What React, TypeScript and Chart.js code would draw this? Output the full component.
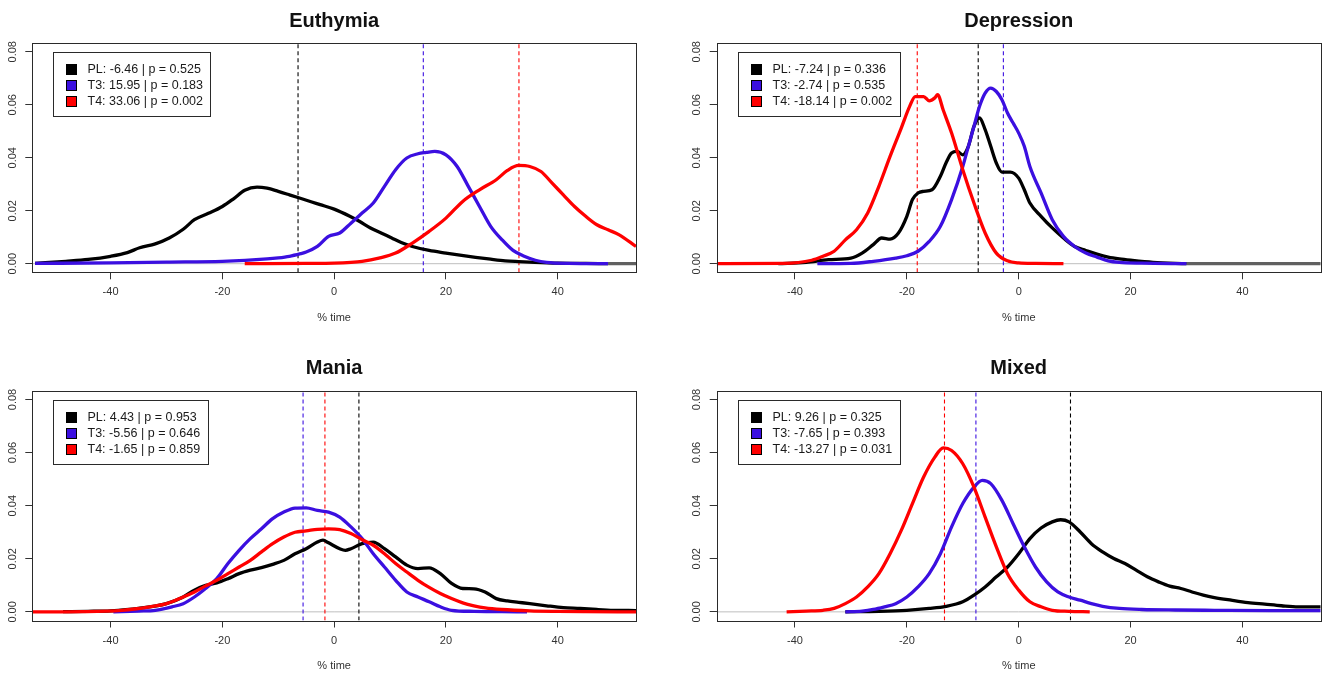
import React, { useEffect, useRef } from 'react';
import { Chart, registerables } from 'chart.js';

Chart.register(...registerables);

// ---------- data ----------
const X_MIN = -54;
const X_MAX = 54;
const Y_MIN = -0.00325;
const Y_MAX = 0.0832;
const xTicks = [-40, -20, 0, 20, 40];
const yTicks = [0, 0.02, 0.04, 0.06, 0.08];
const groups = ['PL', 'T3', 'T4'];
const groupColors = ['#000000', '#3b0fe0', '#ff0000'];
const panelTitles = ['Euthymia', 'Depression', 'Mania', 'Mixed'];

const euthymiaMeans = [-6.46, 15.95, 33.06];
const euthymiaP = [0.525, 0.183, 0.002];
const depressionMeans = [-7.24, -2.74, -18.14];
const depressionP = [0.336, 0.535, 0.002];
const maniaMeans = [4.43, -5.56, -1.65];
const maniaP = [0.953, 0.646, 0.859];
const mixedMeans = [9.26, -7.65, -13.27];
const mixedP = [0.325, 0.393, 0.031];

const euthymiaPL = [[-53.5,0.0001],[-48,0.0009],[-44,0.0016],[-40,0.0028],[-37,0.0042],[-34.8,0.006],[-32,0.0075],[-29.5,0.0097],[-27,0.013],[-25,0.0166],[-22.5,0.019],[-20,0.0216],[-18,0.0245],[-16,0.0277],[-13.8,0.0289],[-12,0.0285],[-10,0.0273],[-8,0.026],[-6.2,0.0248],[-4,0.0233],[-2.5,0.0223],[0,0.0206],[2.8,0.0179],[4.5,0.016],[6.5,0.0135],[8.5,0.0115],[10.3,0.0097],[12,0.008],[14,0.0065],[17,0.005],[20,0.004],[22.5,0.0032],[25.3,0.0024],[28,0.0017],[30.6,0.0011],[33,0.0008],[35.9,0.0005],[40,0.0002],[45,0.0001],[49,0]];
const euthymiaT3 = [[-53.5,0.0001],[-40,0.0003],[-30,0.0006],[-20,0.0009],[-12,0.0018],[-10,0.0022],[-8,0.0028],[-6,0.0038],[-5,0.0044],[-3,0.0065],[-1,0.0103],[1,0.0116],[3,0.0153],[5,0.0191],[7,0.0229],[9,0.0292],[11,0.0355],[13,0.0399],[15,0.0415],[16.5,0.042],[18,0.0424],[20,0.0411],[22,0.0367],[24,0.0292],[26,0.0216],[28,0.0141],[30,0.0091],[32,0.005],[34,0.0028],[36,0.0013],[38,0.0005],[42,0.0001],[49,0]];
const euthymiaT4 = [[-16,0],[-5,0.0001],[0,0.0002],[3,0.0005],[5,0.0009],[8,0.0021],[11,0.004],[14,0.0078],[17,0.0122],[20,0.0172],[23,0.0235],[26,0.0279],[29,0.0317],[31,0.0352],[33,0.0371],[35,0.0367],[37,0.0348],[39,0.0304],[41,0.026],[43,0.0216],[45,0.0179],[47,0.0147],[49,0.0128],[51,0.0109],[54,0.0065]];

const depressionPL = [[-43,0],[-38,0.0005],[-34,0.0015],[-30,0.0021],[-28,0.004],[-26,0.0072],[-24.5,0.0097],[-23,0.0093],[-21.5,0.0116],[-20,0.0179],[-19,0.0242],[-18,0.0267],[-17,0.0273],[-15.5,0.0279],[-14,0.033],[-13,0.038],[-12,0.0418],[-11,0.0424],[-10,0.0411],[-9,0.0443],[-8,0.0518],[-7,0.055],[-6,0.0506],[-5,0.0443],[-4,0.038],[-3,0.0346],[-1.5,0.0346],[0,0.0323],[1,0.0279],[2,0.0229],[4,0.0179],[6,0.0135],[8,0.0097],[10,0.0065],[12,0.005],[14,0.0036],[16,0.0025],[18,0.0018],[20,0.0013],[24,0.0005],[30,0]];
const depressionT3 = [[-36,0],[-30,0.0001],[-26,0.0009],[-22,0.0021],[-20,0.003],[-18,0.0047],[-16,0.0084],[-14,0.0141],[-12,0.0242],[-10,0.0367],[-9,0.0443],[-8,0.0518],[-7,0.0594],[-6,0.0644],[-5,0.0663],[-4,0.065],[-3,0.0619],[-2,0.0569],[-1,0.0531],[0,0.0493],[1,0.0443],[2,0.0367],[4,0.0267],[6,0.0166],[8,0.0103],[10,0.0065],[12,0.004],[14,0.0025],[16,0.0011],[18,0.0005],[22,0.0002],[30,0]];
const depressionT4 = [[-54,0],[-42,0.0001],[-37,0.0013],[-35,0.0028],[-33,0.0047],[-31,0.009],[-29,0.0128],[-27,0.0191],[-25,0.0292],[-23,0.0405],[-21,0.0512],[-19.5,0.0594],[-18.5,0.0631],[-17,0.0631],[-16,0.0615],[-15,0.0626],[-14.5,0.0638],[-13.5,0.058],[-12,0.0493],[-10,0.0355],[-8,0.0229],[-6,0.0116],[-4,0.004],[-2,0.0011],[0,0.0003],[3,0.0001],[8,0]];

const maniaPL = [[-48.5,0.0001],[-44,0.0002],[-40,0.0004],[-35,0.0013],[-30,0.0031],[-27,0.0056],[-25,0.0082],[-23,0.01],[-21,0.0109],[-19,0.0125],[-17,0.0144],[-15,0.0157],[-13,0.0167],[-11,0.0179],[-9,0.0194],[-7,0.0219],[-5,0.0238],[-3,0.0263],[-2,0.027],[-1,0.026],[1,0.0238],[2,0.0232],[3,0.0238],[5,0.0257],[7,0.0263],[9,0.0238],[11,0.0207],[13,0.0176],[15,0.0163],[17,0.0166],[19,0.0144],[21,0.0107],[23,0.0088],[25,0.0087],[27,0.0075],[29,0.005],[31,0.0041],[33,0.0036],[35,0.0031],[38,0.0023],[41,0.0016],[44,0.0013],[47,0.0009],[50,0.0006],[54,0.0005]];
const maniaT3 = [[-39.5,0],[-35,0.0003],[-32,0.0006],[-29,0.0019],[-27,0.0031],[-25,0.0056],[-23,0.0088],[-21,0.0125],[-19,0.0182],[-17,0.0232],[-15,0.0276],[-13,0.0313],[-11,0.0351],[-9,0.0376],[-7,0.0391],[-5,0.0392],[-3,0.0382],[-1,0.0376],[1,0.0357],[3,0.032],[5,0.0276],[7,0.0219],[9,0.0169],[11,0.0119],[13,0.0075],[15,0.0056],[17,0.0038],[19,0.0019],[21,0.0006],[25,0.0002],[30,0.0001],[34.5,0]];
const maniaT4 = [[-54,0],[-45,0.0001],[-38,0.0006],[-33,0.0019],[-30,0.0031],[-27,0.0056],[-25,0.0075],[-23,0.0098],[-21,0.0119],[-19,0.0144],[-17,0.0169],[-15,0.0194],[-13,0.0226],[-11,0.0257],[-9,0.0282],[-7,0.03],[-5,0.0305],[-3,0.0311],[-1,0.0313],[1,0.031],[3,0.0295],[5,0.0272],[7,0.0251],[9,0.0219],[11,0.0182],[13,0.015],[15,0.0119],[17,0.0092],[19,0.0069],[21,0.005],[23,0.0034],[25,0.0023],[27,0.0015],[30,0.0009],[35,0.0004],[40,0.0002],[45,0.0001],[54,0]];

const mixedPL = [[-31,0],[-25,0.0002],[-20,0.0006],[-16,0.0013],[-13,0.0021],[-10,0.0038],[-8,0.0063],[-6,0.0094],[-4,0.0132],[-2,0.0169],[0,0.0219],[2,0.0276],[4,0.0316],[6,0.0339],[7.5,0.0347],[9,0.0339],[11,0.0301],[13,0.0257],[15,0.0226],[17,0.0201],[19,0.0182],[21,0.0157],[23,0.0132],[25,0.0113],[27,0.0097],[29,0.0088],[31,0.0075],[33,0.0063],[35,0.0054],[38,0.0044],[41,0.0035],[44,0.0029],[47,0.0023],[50,0.0019],[54,0.0019]];
const mixedT3 = [[-31,0],[-28,0.0003],[-26,0.0009],[-24,0.0019],[-22,0.0031],[-20,0.0056],[-18,0.0094],[-16,0.0144],[-14,0.0219],[-12,0.032],[-10,0.0408],[-8,0.047],[-6.5,0.0495],[-5,0.0483],[-3,0.042],[-1,0.0332],[1,0.0245],[3,0.0169],[5,0.0113],[7,0.0075],[9,0.0056],[11,0.0044],[13,0.0031],[15,0.0021],[18,0.0013],[22,0.0009],[28,0.0007],[35,0.0006],[45,0.0005],[54,0.0005]];
const mixedT4 = [[-41.5,0],[-38,0.0003],[-35,0.0006],[-33,0.0013],[-31,0.0031],[-29,0.0056],[-27,0.0094],[-25,0.0144],[-23,0.0219],[-21,0.0307],[-19,0.0408],[-17,0.0508],[-15,0.0583],[-13.5,0.0618],[-12,0.0608],[-10,0.0558],[-8,0.047],[-6,0.0357],[-4,0.0245],[-2,0.0144],[0,0.0082],[2,0.0038],[4,0.0019],[6,0.0006],[9,0.0002],[12.7,0]];

const zeroLine = [[-54, 0], [54, 0]];
const euthymiaTail = [[49, 0], [54, 0]];
const depressionTail = [[30, 0], [54, 0]];

// ---------- layout (page pixels) ----------
const panelBoxes = [
  { left: 0, top: 0, width: 664, height: 337, yAxisW: 32.3, padR: 28, padT: 43.3, xAxisH: 64.7, xTitlePadB: 12, titleOff: 16.6 },
  { left: 664, top: 0, width: 665, height: 337, yAxisW: 52.7, padR: 8.3, padT: 43.3, xAxisH: 64.7, xTitlePadB: 12, titleOff: 16.6 },
  { left: 0, top: 337, width: 664, height: 338, yAxisW: 32.3, padR: 28, padT: 54, xAxisH: 54.5, xTitlePadB: 2, titleOff: 17.5 },
  { left: 664, top: 337, width: 665, height: 338, yAxisW: 52.7, padR: 8.3, padT: 54, xAxisH: 54.5, xTitlePadB: 2, titleOff: 17.5 },
];

const FONT = '"Liberation Sans", Arial, sans-serif';

const toPts = (arr: number[][]) => arr.map(([x, y]) => ({ x, y }));

type PanelProps = {
  idx: number;
  curves: number[][][];
  means: number[];
  pvals: number[];
  tail?: number[][];
};

function Panel({ idx, curves, means, pvals, tail }: PanelProps) {
  const ref = useRef<HTMLCanvasElement | null>(null);
  const box = panelBoxes[idx];
  const title = panelTitles[idx];

  useEffect(() => {
    if (!ref.current) return;
    const legendLabels = groups.map((g, i) => `${g}: ${means[i].toFixed(2)} | p = ${pvals[i].toFixed(3)}`);

    const datasets: any[] = [];
    datasets.push({
      data: toPts(zeroLine), borderColor: '#bebebe', borderWidth: 1, pointRadius: 0, order: 20, clip: 0,
    });
    if (tail) {
      datasets.push({
        data: toPts(tail), borderColor: '#606060', borderWidth: 3.3, pointRadius: 0, order: 15, clip: 0,
      });
    }
    means.forEach((m, i) => {
      datasets.push({
        data: [{ x: m, y: Y_MIN }, { x: m, y: Y_MAX }],
        borderColor: groupColors[i], borderWidth: 1.1, borderDash: [4, 3], pointRadius: 0, order: 10 + i, clip: 0,
      });
    });
    curves.forEach((c, i) => {
      datasets.push({
        label: groups[i],
        data: toPts(c), borderColor: groupColors[i], borderWidth: 3.3, pointRadius: 0,
        cubicInterpolationMode: 'monotone', order: 5 - i, clip: 0,
      });
    });

    const framePlugin = {
      id: 'frame',
      afterDraw(chart: any) {
        const { ctx, chartArea: a } = chart;
        ctx.save();
        ctx.strokeStyle = '#2a2a2a';
        ctx.lineWidth = 1;
        ctx.strokeRect(Math.round(a.left) + 0.5, Math.round(a.top) + 0.5, Math.round(a.right - a.left), Math.round(a.bottom - a.top));
        ctx.restore();
      },
    };
    const titlePlugin = {
      id: 'panelTitle',
      afterDraw(chart: any) {
        const { ctx, chartArea: a } = chart;
        ctx.save();
        ctx.font = `bold 20px ${FONT}`;
        ctx.fillStyle = '#111';
        ctx.textAlign = 'center';
        ctx.textBaseline = 'alphabetic';
        ctx.fillText(title, (a.left + a.right) / 2, a.top - box.titleOff);
        ctx.restore();
      },
    };
    const legendPlugin = {
      id: 'boxLegend',
      afterDraw(chart: any) {
        const { ctx, chartArea: a } = chart;
        ctx.save();
        ctx.font = `12.5px ${FONT}`;
        const tw = Math.max(...legendLabels.map((t) => ctx.measureText(t).width));
        const bx = Math.round(a.left + 21) + 0.5;
        const by = Math.round(a.top + 9) + 0.5;
        const bw = Math.round(34 + tw + 8);
        const bh = 64;
        ctx.fillStyle = '#ffffff';
        ctx.fillRect(bx, by, bw, bh);
        ctx.strokeStyle = '#2a2a2a';
        ctx.lineWidth = 1;
        ctx.strokeRect(bx, by, bw, bh);
        legendLabels.forEach((t, i) => {
          const cy = by + 16.5 + i * 15.8;
          ctx.fillStyle = groupColors[i];
          ctx.fillRect(bx + 13, Math.round(cy - 5), 10, 10);
          ctx.strokeStyle = '#000';
          ctx.strokeRect(bx + 13, Math.round(cy - 5) + 0.5, 10, 10);
          ctx.fillStyle = '#1a1a1a';
          ctx.textAlign = 'left';
          ctx.textBaseline = 'middle';
          ctx.fillText(t, bx + 34, cy + 0.5);
        });
        ctx.restore();
      },
    };

    const chart = new Chart(ref.current, {
      type: 'line',
      data: { datasets },
      options: {
        animation: false,
        responsive: false,
        maintainAspectRatio: false,
        events: [],
        layout: { padding: { top: box.padT, right: box.padR, left: 0, bottom: 0 } },
        plugins: {
          legend: { display: false },
          tooltip: { enabled: false },
          title: { display: false },
        },
        elements: { point: { radius: 0 } },
        scales: {
          x: {
            type: 'linear',
            min: X_MIN,
            max: X_MAX,
            afterBuildTicks: (s: any) => { s.ticks = xTicks.map((v) => ({ value: v })); },
            afterFit: (s: any) => { s.height = box.xAxisH; },
            ticks: {
              font: { family: FONT, size: 11 },
              color: '#333',
              padding: 6.4,
              maxRotation: 0,
              minRotation: 0,
              autoSkip: false,
              callback: (v: any) => String(v),
            },
            grid: { display: true, drawOnChartArea: false, drawTicks: true, tickLength: 7, color: '#333', lineWidth: 1 },
            border: { display: false },
            title: {
              display: true,
              text: '% time',
              font: { family: FONT, size: 11 },
              color: '#333',
              padding: { top: 0, bottom: box.xTitlePadB },
            },
          },
          y: {
            type: 'linear',
            min: Y_MIN,
            max: Y_MAX,
            afterBuildTicks: (s: any) => { s.ticks = yTicks.map((v) => ({ value: v })); },
            afterFit: (s: any) => { s.width = box.yAxisW; },
            ticks: {
              font: { family: FONT, size: 11 },
              color: '#333',
              padding: 1.8,
              minRotation: 90,
              maxRotation: 90,
              crossAlign: 'center',
              autoSkip: false,
              callback: (v: any) => Number(v).toFixed(2),
            },
            grid: { display: true, drawOnChartArea: false, drawTicks: true, tickLength: 7, color: '#333', lineWidth: 1 },
            border: { display: false },
          },
        },
      } as any,
      plugins: [framePlugin, titlePlugin, legendPlugin],
    });
    return () => chart.destroy();
  }, []);

  return (
    <canvas
      ref={ref}
      width={box.width}
      height={box.height}
      style={{ position: 'absolute', left: box.left, top: box.top, width: box.width, height: box.height }}
    />
  );
}

export default function App() {
  return (
    <div style={{ position: 'fixed', left: 0, top: 0, width: 1329, height: 675, background: '#ffffff', overflow: 'hidden' }}>
      <Panel idx={0} curves={[euthymiaPL, euthymiaT3, euthymiaT4]} means={euthymiaMeans} pvals={euthymiaP} tail={euthymiaTail} />
      <Panel idx={1} curves={[depressionPL, depressionT3, depressionT4]} means={depressionMeans} pvals={depressionP} tail={depressionTail} />
      <Panel idx={2} curves={[maniaPL, maniaT3, maniaT4]} means={maniaMeans} pvals={maniaP} />
      <Panel idx={3} curves={[mixedPL, mixedT3, mixedT4]} means={mixedMeans} pvals={mixedP} />
    </div>
  );
}
